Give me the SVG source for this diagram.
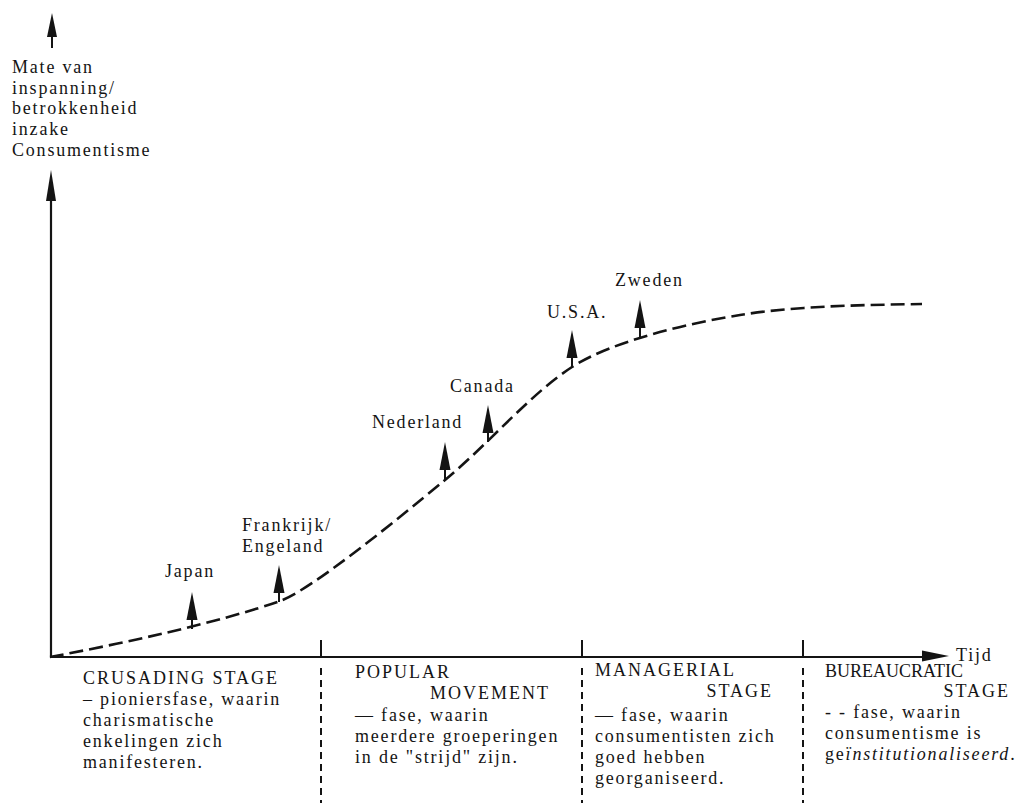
<svg xmlns="http://www.w3.org/2000/svg" width="1020" height="803" viewBox="0 0 1020 803">
<style>
  text { font-family: "Liberation Serif", "Times New Roman", serif; font-size: 18px; fill: #141414; letter-spacing: 1.8px; }
  .cap { letter-spacing: 2px; }
  .axis { stroke: #141414; stroke-width: 2.2; fill: none; }
  .curve { stroke: #141414; stroke-width: 2.6; fill: none; stroke-dasharray: 14 6; }
  .divider { stroke: #141414; stroke-width: 2; fill: none; stroke-dasharray: 7 5; }
  .tick { stroke: #141414; stroke-width: 2; }
  .head { fill: #141414; }
</style>
<defs>
  <g id="up">
    <polygon class="head" points="0,0 -5.5,28 5.5,28"/>
    <line x1="0" y1="27" x2="0" y2="37" stroke="#141414" stroke-width="2"/>
  </g>
</defs>
<rect width="1020" height="803" fill="#ffffff"/>

<g id="axes">
  <line class="axis" x1="51" y1="196" x2="51" y2="658"/>
  <polygon class="head" points="51,170 46,201 56,201"/>
  <line class="axis" x1="50" y1="657" x2="928" y2="657"/>
  <polygon class="head" points="949,656 922,650.5 922,661.5"/>
  <polygon class="head" points="52,13 47,37 57,37"/>
  <line x1="52" y1="35" x2="52" y2="48" stroke="#141414" stroke-width="2"/>
</g>

<g id="y-label">
  <text x="12" y="73">Mate van</text>
  <text x="12" y="94">inspanning/</text>
  <text x="12" y="114">betrokkenheid</text>
  <text x="12" y="135">inzake</text>
  <text x="12" y="156">Consumentisme</text>
</g>
<g id="x-label"><text x="956" y="661">Tijd</text></g>

<g id="connectors">
  <path class="curve" d="M50,657 C130,642 220,622 280,601 C310,590.5 395,521.5 445,480 C490,442.6 530,394.3 572,367 C612,341 690,323 740,315 C800,305.3 870,305 922,304"/>
  <line class="tick" x1="321" y1="640" x2="321" y2="657"/>
  <line class="tick" x1="582" y1="640" x2="582" y2="657"/>
  <line class="tick" x1="803" y1="640" x2="803" y2="657"/>
  <line class="divider" x1="321" y1="668" x2="321" y2="803"/>
  <line class="divider" x1="582" y1="668" x2="582" y2="803"/>
  <line class="divider" x1="803" y1="668" x2="803" y2="803"/>
</g>

<g id="japan">
  <use href="#up" x="192" y="592"/>
  <text x="165" y="577">Japan</text>
</g>
<g id="frankrijk-engeland">
  <use href="#up" x="279" y="565"/>
  <text x="242" y="531">Frankrijk/</text>
  <text x="242" y="552">Engeland</text>
</g>
<g id="nederland">
  <use href="#up" x="445" y="442"/>
  <text x="372" y="428">Nederland</text>
</g>
<g id="canada">
  <use href="#up" x="488" y="405"/>
  <text x="450" y="392">Canada</text>
</g>
<g id="usa">
  <use href="#up" x="572" y="330"/>
  <text x="547" y="318">U.S.A.</text>
</g>
<g id="zweden">
  <use href="#up" x="640" y="300"/>
  <text x="615" y="286">Zweden</text>
</g>

<g id="crusading-stage">
  <text class="cap" x="83" y="684">CRUSADING STAGE</text>
  <text x="83" y="705">–  pioniersfase, waarin</text>
  <text x="83" y="726">charismatische</text>
  <text x="83" y="747">enkelingen zich</text>
  <text x="83" y="768">manifesteren.</text>
</g>
<g id="popular-movement">
  <text class="cap" x="355" y="678">POPULAR</text>
  <text class="cap" x="550" y="699" text-anchor="end">MOVEMENT</text>
  <text x="355" y="721">— fase, waarin</text>
  <text x="355" y="742">meerdere groeperingen</text>
  <text x="355" y="763">in de "strijd" zijn.</text>
</g>
<g id="managerial-stage">
  <text class="cap" x="595" y="676">MANAGERIAL</text>
  <text class="cap" x="773" y="697" text-anchor="end">STAGE</text>
  <text x="595" y="721">— fase, waarin</text>
  <text x="595" y="742">consumentisten zich</text>
  <text x="595" y="763">goed hebben</text>
  <text x="595" y="784">georganiseerd.</text>
</g>
<g id="bureaucratic-stage">
  <text class="cap" x="825" y="677" textLength="140" lengthAdjust="spacing">BUREAUCRATIC</text>
  <text class="cap" x="1010" y="697" text-anchor="end">STAGE</text>
  <text x="825" y="718">- - fase, waarin</text>
  <text x="825" y="739">consumentisme is</text>
  <text x="825" y="760">ge<tspan font-style="italic">ïnstitutionaliseerd</tspan>.</text>
</g>
</svg>
